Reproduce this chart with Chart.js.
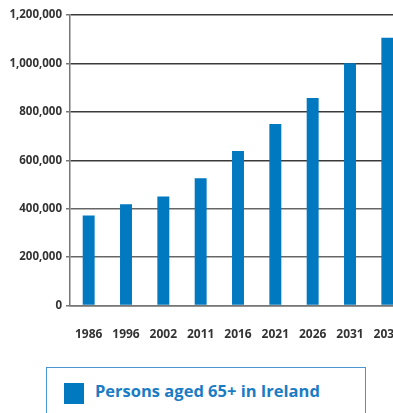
<!DOCTYPE html>
<html><head><meta charset="utf-8">
<script src="https://cdn.jsdelivr.net/npm/chart.js@4/dist/chart.umd.min.js"></script>
<style>
html,body{margin:0;padding:0;background:#fff;overflow:hidden;width:393px;height:413px;}
#wrap{position:absolute;left:0;top:0;width:406px;height:356px;}
#c{width:406px;height:356px;}
#legend{position:absolute;left:46px;top:367px;width:320px;height:60px;border:1.5px solid #4a96d4;box-sizing:border-box;}
#legend .sw{position:absolute;left:17px;top:15px;width:20px;height:21px;background:#0079c1;}
#legend .tx{position:absolute;left:48px;top:11px;font-family:"Open Sans","DejaVu Sans",sans-serif;font-weight:bold;font-size:16.5px;color:#1a7cc4;}
</style></head>
<body>
<div id="wrap"><canvas id="c" width="406" height="356"></canvas></div>
<div id="legend"><div class="sw"></div><div class="tx">Persons aged 65+ in Ireland</div></div>
<script>
const categories = ["1986","1996","2002","2011","2016","2021","2026","2031","2036"];
const persons65 = [372000, 418000, 451000, 526000, 638000, 750000, 857000, 1001000, 1106000];
const yTicks = [0, 200000, 400000, 600000, 800000, 1000000, 1200000];
const seriesLabel = "Persons aged 65+ in Ireland";

const fontFam = '"Liberation Sans Narrow","Open Sans",sans-serif';
const cv = document.getElementById('c');
const ctx = cv.getContext('2d');
try { ctx.fontStretch = 'condensed'; } catch (e) {}
new Chart(cv, {
  type: 'bar',
  data: { labels: categories, datasets: [{ label: seriesLabel, data: persons65, backgroundColor: '#0079c1', borderWidth: 0, barPercentage: 0.32, categoryPercentage: 1 }] },
  options: {
    responsive: false, animation: false,
    layout: { padding: { top: 15, right: 0, left: 0, bottom: 0 } },
    plugins: { legend: { display: false }, tooltip: { enabled: false } },
    scales: {
      x: {
        grid: { display: false },
        border: { display: true, color: '#777', width: 1.5 },
        afterFit: (s) => { s.paddingRight = 0; },
        ticks: { color: '#333', padding: 14, maxRotation: 0, autoSkip: false, font: { family: fontFam, weight: 'bold', size: 12 } }
      },
      y: {
        min: 0, max: 1200000,
        afterBuildTicks: (s) => { s.ticks = yTicks.map(v => ({ value: v })); },
        afterFit: (s) => { s.width = 70; },
        grid: { color: (c) => c.tick && c.tick.value >= 600000 ? '#3a3a3a' : '#666', lineWidth: 1.5, tickLength: 4, drawTicks: true, tickColor: '#777' },
        border: { display: true, color: '#777', width: 1.5 },
        ticks: { color: '#333', padding: 4, font: { family: fontFam, weight: 'bold', size: 11.5 },
          callback: (v) => v.toLocaleString('en-US') }
      }
    }
  }
});
</script>
</body></html>
